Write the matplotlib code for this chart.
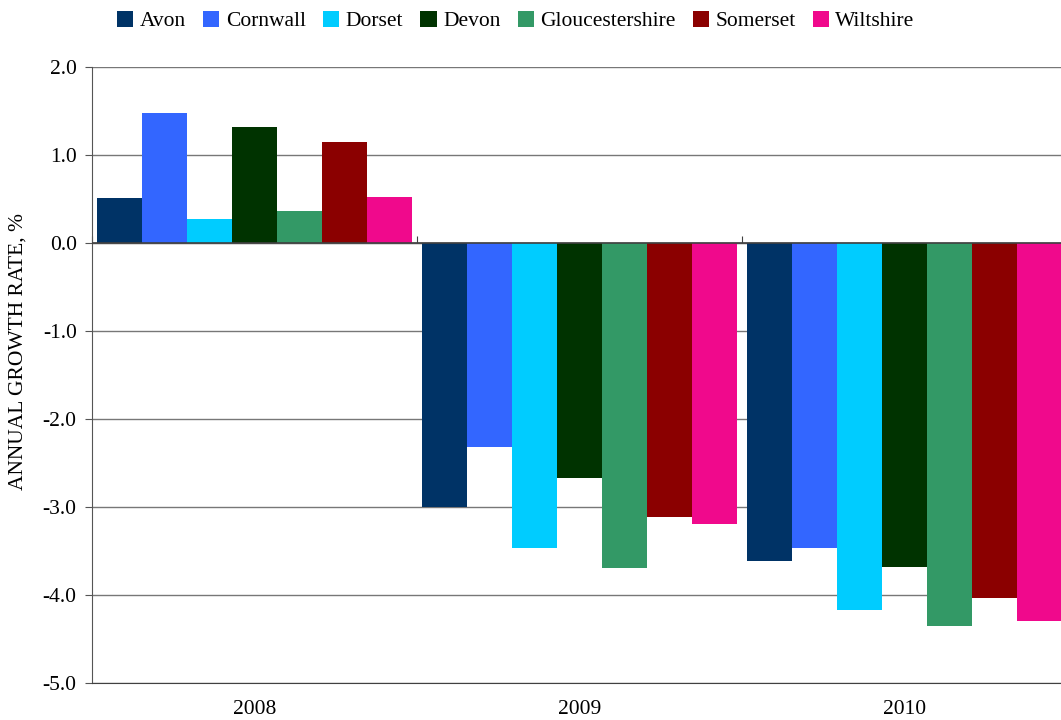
import numpy as np
import matplotlib.pyplot as plt

# Annual growth rate by county, 2008-2010
years = ['2008', '2009', '2010']
counties = ['Avon', 'Cornwall', 'Dorset', 'Devon', 'Gloucestershire', 'Somerset', 'Wiltshire']
avon = [0.51, -3.00, -3.61]
cornwall = [1.47, -2.32, -3.47]
dorset = [0.27, -3.47, -4.17]
devon = [1.31, -2.67, -3.68]
gloucestershire = [0.36, -3.69, -4.35]
somerset = [1.14, -3.12, -4.03]
wiltshire = [0.52, -3.19, -4.30]

series = [avon, cornwall, dorset, devon, gloucestershire, somerset, wiltshire]
colors = ['#003366', '#3366ff', '#00ccff', '#003300', '#339966', '#8b0000', '#f0098c']

plt.rcParams['font.family'] = ['Liberation Serif', 'DejaVu Serif']
plt.rcParams['font.size'] = 15.5

fig = plt.figure(figsize=(10.61, 7.2), dpi=100)
ax = fig.add_axes([0.0867, 0.0514, 0.919, 0.856])

x = np.arange(len(years))
n = len(series)
width = 0.97 / n
for i, (vals, c) in enumerate(zip(series, colors)):
    offs = (i - (n - 1) / 2) * width
    ax.bar(x + offs, vals, width, color=c, label=counties[i], zorder=2)

ax.set_xlim(-0.5, 2.5)
ax.set_ylim(-5, 2)
ax.set_yticks(np.arange(-5, 2.1, 1))
ax.set_yticklabels([f'{v:.1f}' for v in np.arange(-5, 2.1, 1)])
ax.grid(axis='y', color='#777777', linewidth=1, zorder=0)
ax.tick_params(axis='y', direction='out', length=5, color='#555555', pad=6)

# category labels sit under the plot, no tick marks
ax.set_xticks(x)
ax.set_xticklabels(years)
ax.tick_params(axis='x', length=0, pad=12)

for s in ['top', 'right']:
    ax.spines[s].set_visible(False)
ax.spines['left'].set_color('#555555')
ax.spines['bottom'].set_color('#404040')

# zero line with boundary ticks
ax.axhline(0, color='#404040', linewidth=1.2, zorder=3)
sec = ax.secondary_xaxis(5 / 7)
sec.set_xticks(np.arange(len(years) + 1) - 0.5)
sec.set_xticklabels([])
sec.tick_params(direction='out', length=5, color='#404040')
sec.spines['bottom'].set_visible(False)

fig.text(18 / 1061, 1 - 352 / 720, 'ANNUAL GROWTH RATE, %', rotation=90,
         ha='center', va='center', fontsize=15.5)

fig.legend(loc='center', bbox_to_anchor=(516 / 1061, 1 - 21 / 720), ncol=n,
           frameon=False, handlelength=0.75, handleheight=0.75,
           handletextpad=0.3, columnspacing=0.8, borderaxespad=0)

fig.savefig('out.png', dpi=100)
